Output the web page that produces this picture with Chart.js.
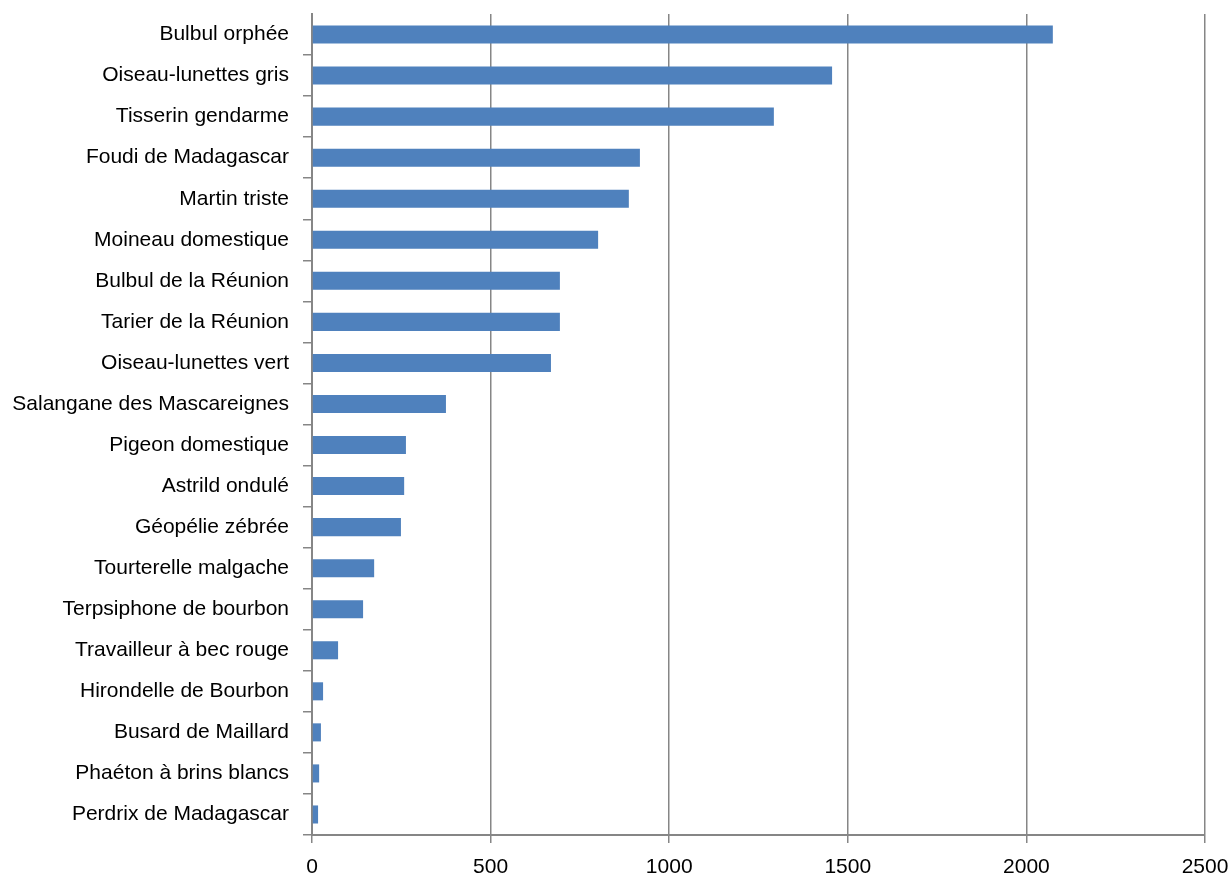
<!DOCTYPE html>
<html>
<head>
<meta charset="utf-8">
<script src="https://cdn.jsdelivr.net/npm/chart.js@4"></script>
<style>
  body { margin:0; background:#fff; }
  #wrap { width:1229px; height:884px; position:relative; }
</style>
</head>
<body>
<div id="wrap"><canvas id="chart"></canvas></div>
<script>
// especes observees (ordre du graphique, du haut vers le bas)
const species = [
  "Bulbul orphée", "Oiseau-lunettes gris", "Tisserin gendarme", "Foudi de Madagascar",
  "Martin triste", "Moineau domestique", "Bulbul de la Réunion", "Tarier de la Réunion",
  "Oiseau-lunettes vert", "Salangane des Mascareignes", "Pigeon domestique", "Astrild ondulé",
  "Géopélie zébrée", "Tourterelle malgache", "Terpsiphone de bourbon", "Travailleur à bec rouge",
  "Hirondelle de Bourbon", "Busard de Maillard", "Phaéton à brins blancs", "Perdrix de Madagascar"
];
const counts = [2074, 1456, 1293, 918, 887, 801, 694, 694, 669, 375, 263, 258, 249, 174, 143, 73, 31, 25, 20, 17];
const xTicks = [0, 500, 1000, 1500, 2000, 2500];

const axisGray = "#868686";
const labelFont = { family: "'Liberation Sans', Arial, sans-serif", size: 21 };

new Chart(document.getElementById("chart"), {
  type: "bar",
  data: {
    labels: species,
    datasets: [{
      data: counts,
      backgroundColor: "#4F81BD",
      borderWidth: 0,
      categoryPercentage: 1,
      barPercentage: 0.44
    }]
  },
  options: {
    indexAxis: "y",
    responsive: true,
    maintainAspectRatio: false,
    animation: false,
    layout: { padding: { left: 0, right: 24, top: 14, bottom: 0 } },
    plugins: { legend: { display: false }, tooltip: { enabled: false } },
    scales: {
      x: {
        min: 0, max: 2500,
        afterBuildTicks: (s) => { s.ticks = xTicks.map(v => ({ value: v })); },
        afterFit: (s) => { s.height = 49; s.paddingLeft = 0; s.paddingRight = 0; },
        grid: { color: axisGray, lineWidth: 1.5, tickLength: 8, drawTicks: true },
        border: { color: axisGray, width: 2 },
        ticks: { color: "#000", font: labelFont, padding: 12, maxRotation: 0,
                 callback: (v) => String(v) }
      },
      y: {
        afterFit: (s) => { s.width = 312; s.paddingTop = 0; s.paddingBottom = 0; },
        grid: { drawOnChartArea: false, lineWidth: 1.5, tickLength: 9, offset: true,
                color: (c) => c.index === 0 ? "rgba(0,0,0,0)" : axisGray },
        border: { color: axisGray, width: 2 },
        ticks: { color: "#000", font: labelFont, padding: 14, autoSkip: false }
      }
    }
  }
});
</script>
</body>
</html>
